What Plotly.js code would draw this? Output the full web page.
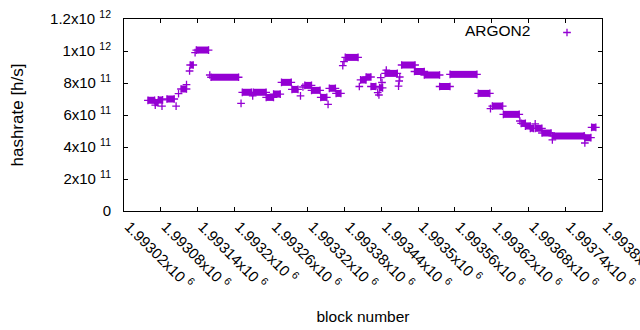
<!DOCTYPE html>
<html>
<head>
<meta charset="utf-8">
<script src="https://cdn.plot.ly/plotly-3.0.1.min.js"></script>
<style>html,body{margin:0;padding:0;background:#fff;}#chart{width:640px;height:330px;}</style>
</head>
<body>
<div id="chart"></div>
<script>
// Runs of constant hashrate: first block, last block, hashrate [h/s]
const runStart = [1993059,1993071,1993071,1993076,1993082,1993090,1993105,1993109,1993113,1993122,
  1993127,1993128,1993136,1993138,1993160,1993162,1993211,1993213,1993230,1993231,
  1993252,1993264,1993277,1993294,1993308,1993312,1993315,1993326,1993341,1993353,
  1993355,1993366,1993377,1993379,1993381,1993404,1993406,1993415,1993423,1993434,
  1993436,1993437,1993439,1993441,1993446,1993448,1993468,1993469,1993470,1993473,
  1993494,1993510,1993535,1993552,1993598,1993618,1993621,1993639,1993666,1993668,
  1993675,1993683,1993691,1993691,1993702,1993719,1993719,1993772,1993772,1993783];
const runEnd = [1993070,1993071,1993075,1993083,1993082,1993102,1993105,1993109,1993122,1993122,
  1993127,1993133,1993136,1993158,1993160,1993207,1993211,1993228,1993230,1993252,
  1993264,1993275,1993293,1993304,1993308,1993312,1993326,1993340,1993351,1993353,
  1993365,1993374,1993377,1993379,1993402,1993404,1993415,1993423,1993431,1993434,
  1993436,1993442,1993439,1993441,1993466,1993448,1993468,1993469,1993470,1993495,
  1993510,1993535,1993552,1993596,1993617,1993618,1993638,1993665,1993666,1993675,
  1993683,1993688,1993691,1993702,1993717,1993719,1993771,1993772,1993782,1993790];
const runRate = [6.92e11,6.62e11,6.77e11,6.94e11,6.56e11,7.00e11,6.56e11,7.34e11,7.625e11,7.9e11,
  8.75e11,9.125e11,9.9e11,1.006e12,8.5e11,8.36e11,6.73e11,7.42e11,7.2e11,7.42e11,
  7.1e11,7.31e11,8.04e11,7.6e11,7.2e11,7.75e11,7.85e11,7.54e11,7.1e11,6.67e11,
  7.67e11,7.35e11,9.09e11,9.33e11,9.6e11,7.78e11,8.19e11,8.375e11,7.78e11,7.4e11,
  7.25e11,7.7e11,8.34e11,8.03e11,8.6e11,8.8e11,7.81e11,8.125e11,8.375e11,9.125e11,
  8.72e11,8.5e11,7.78e11,8.54e11,7.35e11,6.4e11,6.56e11,6.04e11,5.625e11,5.48e11,
  5.31e11,5.17e11,5.44e11,5.17e11,4.875e11,4.44e11,4.69e11,4.25e11,4.58e11,5.23e11];

const seriesName = 'ARGON2';
const xTickVals = [1993020,1993080,1993140,1993200,1993260,1993320,1993380,1993440,1993500,1993560,1993620,1993680,1993740,1993800];
const xTickText = ['1.99302x10 <sup>6</sup>','1.99308x10 <sup>6</sup>','1.99314x10 <sup>6</sup>','1.9932x10 <sup>6</sup>',
  '1.99326x10 <sup>6</sup>','1.99332x10 <sup>6</sup>','1.99338x10 <sup>6</sup>','1.99344x10 <sup>6</sup>',
  '1.9935x10 <sup>6</sup>','1.99356x10 <sup>6</sup>','1.99362x10 <sup>6</sup>','1.99368x10 <sup>6</sup>',
  '1.99374x10 <sup>6</sup>','1.9938x10 <sup>6</sup>'];
const yTickVals = [0,2e11,4e11,6e11,8e11,1e12,1.2e12];
const yTickText = ['0','2x10&nbsp;<sup>11</sup>','4x10&nbsp;<sup>11</sup>','6x10&nbsp;<sup>11</sup>','8x10&nbsp;<sup>11</sup>','1x10&nbsp;<sup>12</sup>','1.2x10&nbsp;<sup>12</sup>'];

const color = '#9400d3';
const bx = [], by = [], mx = [], my = [];
for (let i = 0; i < runStart.length; i++) {
  bx.push(runStart[i], runEnd[i], null);
  by.push(runRate[i], runRate[i], null);
  mx.push(runStart[i]); my.push(runRate[i]);
  if (runEnd[i] !== runStart[i]) { mx.push(runEnd[i]); my.push(runRate[i]); }
}

const traces = [
  {x: bx, y: by, type: 'scatter', mode: 'lines', line: {color: color, width: 7}, showlegend: false, hoverinfo: 'skip'},
  {x: mx, y: my, type: 'scatter', mode: 'markers', name: '',
   marker: {symbol: 'cross-thin', size: 5.5, color: color, line: {color: color, width: 1.3}}}
];

const font = {family: '"Liberation Sans", Arial, sans-serif', size: 15, color: '#000'};
const layout = {
  width: 640, height: 330,
  margin: {l: 124, r: 38, t: 19, b: 119},
  paper_bgcolor: '#fff', plot_bgcolor: '#fff',
  font: font,
  showlegend: true,
  legend: {x: 0.981, y: 1.016, xanchor: 'right', yanchor: 'top', bgcolor: 'rgba(0,0,0,0)',
    title: {text: seriesName + '&nbsp;&nbsp;', side: 'left', font: {size: 15.5}}, font: {size: 15.5}},
  xaxis: {
    range: [1993020, 1993800], tickmode: 'array', tickvals: xTickVals, ticktext: xTickText,
    tickangle: 45, ticks: 'inside', ticklen: 4, tickcolor: '#000', showline: true, linecolor: '#000',
    linewidth: 1, mirror: 'ticks', showgrid: false, zeroline: false,
    ticklabelstandoff: 0, ticklabelshift: 5, ticklabeloverflow: 'allow',
    tickfont: {size: 15},
    title: {text: 'block number', font: {size: 15.5}, standoff: 19}, automargin: false
  },
  yaxis: {
    range: [0, 1.2e12], tickmode: 'array', tickvals: yTickVals, ticktext: yTickText,
    ticks: 'inside', ticklen: 4, tickcolor: '#000', showline: true, linecolor: '#000',
    linewidth: 1, mirror: 'ticks', showgrid: false, zeroline: false, ticklabelstandoff: 9,
    tickfont: {size: 15},
    title: {text: 'hashrate [h/s]', font: {size: 17}, standoff: 22}, automargin: false
  }
};
Plotly.newPlot('chart', traces, layout, {displayModeBar: false, staticPlot: true});
</script>
</body>
</html>
